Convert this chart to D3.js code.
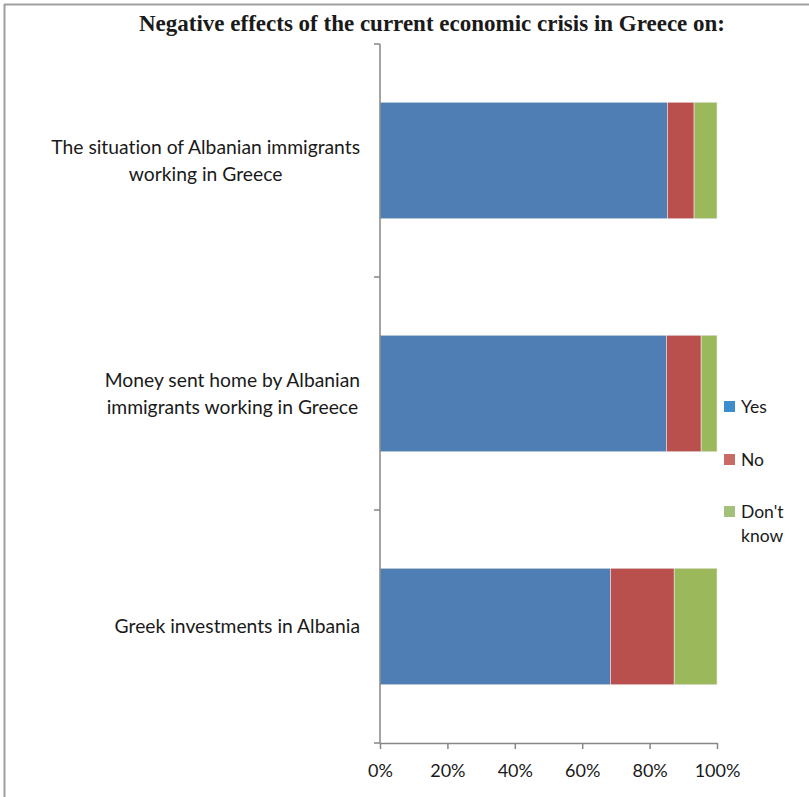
<!DOCTYPE html>
<html><head><meta charset="utf-8">
<script src="https://cdn.jsdelivr.net/npm/d3@7"></script>
<style>body{margin:0;background:#fff}svg{display:block}text{font-variant-ligatures:none}</style>
</head><body>
<svg id="c" width="809" height="797"></svg>
<script>
const categories = [
  ["The situation of Albanian immigrants", "working in Greece"],
  ["Money sent home by Albanian", "immigrants working in Greece"],
  ["Greek investments in Albania"]
];
const seriesNames = ["Yes", "No", "Don't know"];
const yesValues = [85.3, 85.0, 68.4];
const noValues = [7.9, 10.3, 18.9];
const dkValues = [6.8, 4.7, 12.7];
const tickValues = [0, 20, 40, 60, 80, 100];
const barColors = ["#4F7EB5", "#B9504D", "#9BB85B"];
const legendColors = ["#3C8DCE", "#C96B64", "#A4C17B"];

const svg = d3.select("#c");
const labelFont = "Lato, 'Open Sans', sans-serif";

// frame
svg.append("line").attr("x1",4.5).attr("x2",4.5).attr("y1",4).attr("y2",797).attr("stroke","#a0a0a0").attr("stroke-width",2);
svg.append("line").attr("x1",4).attr("x2",809).attr("y1",4.5).attr("y2",4.5).attr("stroke","#a0a0a0").attr("stroke-width",2);

svg.append("text").attr("x",432).attr("y",31).attr("text-anchor","middle")
  .attr("font-family","'Liberation Serif', 'Times New Roman', serif").attr("font-weight","bold")
  .attr("font-size",23).attr("fill","#1a1a1a")
  .text("Negative effects of the current economic crisis in Greece on:");

const x = d3.scaleLinear().domain([0,100]).range([380,717]);
const y = d3.scaleBand().domain(d3.range(categories.length)).range([44,743]).paddingInner(0.5).paddingOuter(0.25);

const rows = categories.map((c,i)=>({i, vals:[yesValues[i], noValues[i], dkValues[i]]}));
const stack = d3.stack().keys([0,1,2]).value((d,k)=>d.vals[k]);
const series = stack(rows);

series.forEach((s,k)=>{
  svg.append("g").selectAll("rect").data(s).join("rect")
    .attr("x", d=>x(d[0])).attr("width", d=>x(d[1])-x(d[0]))
    .attr("y", d=>y(d.data.i)).attr("height", y.bandwidth())
    .attr("fill", barColors[k]).attr("stroke","#e8e8e8").attr("stroke-width",0.6);
});

// y axis
const ya = svg.append("g");
ya.append("line").attr("x1",380).attr("x2",380).attr("y1",44).attr("y2",743).attr("stroke","#868686").attr("stroke-width",1.5);
const yTicks = [0,1,2,3].map(i=>44 + i*y.step());
ya.selectAll("line.t").data(yTicks).join("line").attr("class","t")
  .attr("x1",374).attr("x2",380).attr("y1",d=>d).attr("y2",d=>d).attr("stroke","#868686").attr("stroke-width",1.5);

// x axis
const xa = svg.append("g").attr("transform","translate(0,743)")
  .call(d3.axisBottom(x).tickValues(tickValues).tickFormat(d=>d+"%").tickSize(6).tickSizeOuter(0));
xa.select(".domain").attr("stroke","#868686").attr("stroke-width",1.5);
xa.selectAll(".tick line").attr("stroke","#868686").attr("stroke-width",1.5);
xa.selectAll(".tick text").attr("font-family",labelFont).attr("font-size",18).attr("fill","#1a1a1a").attr("dy","1.4em");

// category labels
categories.forEach((lines,i)=>{
  const cy = y(i) + y.bandwidth()/2;
  const g = svg.append("g");
  const n = lines.length, lh = 27;
  const ts = lines.map((t,j)=> g.append("text").attr("font-family",labelFont).attr("font-size",19.3).attr("fill","#1a1a1a")
     .attr("text-anchor","middle").attr("y", cy + (j-(n-1)/2)*lh).attr("dy","0.35em").text(t));
  const w = d3.max(ts, t=>t.node().getComputedTextLength());
  ts.forEach(t=>t.attr("x", 360 - w/2));
});

// legend
const legY = [407, 460, 512];
seriesNames.forEach((nm,k)=>{
  svg.append("rect").attr("x",724).attr("y",legY[k]-6).attr("width",11).attr("height",11).attr("fill",legendColors[k]);
  const t = svg.append("text").attr("x",741).attr("y",legY[k]).attr("dy","0.35em")
    .attr("font-family",labelFont).attr("font-size",17.5).attr("fill","#1a1a1a");
  if (nm === "Don't know") {
    t.append("tspan").attr("x",741).text("Don't");
    t.append("tspan").attr("x",741).attr("dy","1.35em").text("know");
  } else t.text(nm);
});
</script>
</body></html>
